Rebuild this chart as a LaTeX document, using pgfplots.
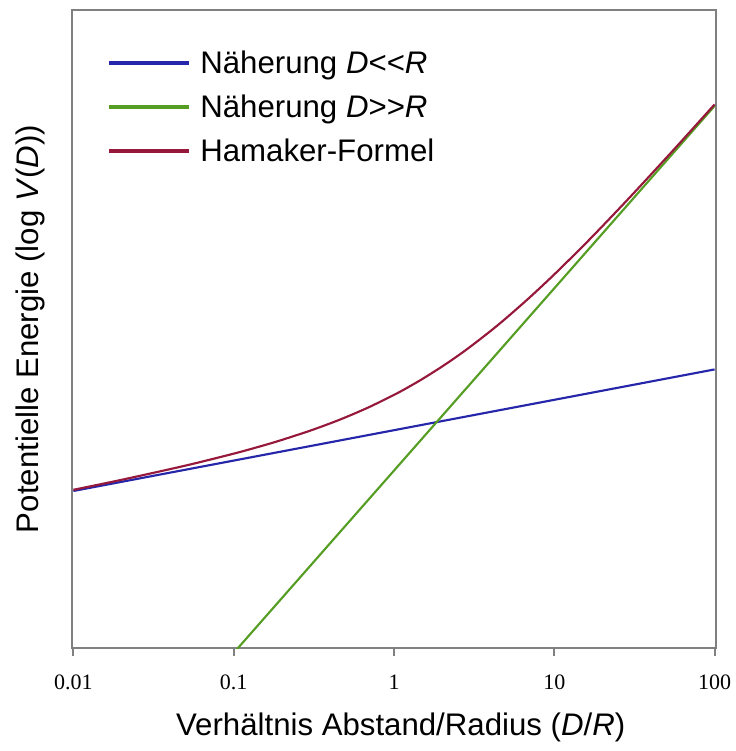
\documentclass[border=0pt]{standalone}
\usepackage{fontspec}
\setmainfont{Liberation Sans}
\newfontfamily\tickfont{Liberation Serif}
\usepackage{pgfplots}
\pgfplotsset{compat=1.18}
\definecolor{cblue}{RGB}{38,38,170}
\definecolor{cgreen}{RGB}{85,158,35}
\definecolor{cred}{RGB}{150,25,60}
\definecolor{framegray}{RGB}{128,128,128}
\newcommand{\tl}[1]{\mbox{\tickfont\fontsize{16.5}{16.5}\selectfont #1}}
\begin{document}
\begin{tikzpicture}
\begin{axis}[
  scale only axis, width=483pt, height=478.5pt,
  xmode=log, xmin=0.0098, xmax=102,
  ymin=-6.867, ymax=14.13,
  axis line style={framegray, line width=1.5pt},
  ytick=\empty,
  xtick={0.01,0.1,1,10,100},
  xticklabels={\tl{0.01},\tl{0.1},\tl{1},\tl{10},\tl{100}},
  xminorticks=false,
  xtick pos=bottom,
  tick align=outside,
  major tick length=6pt,
  tick style={framegray, line width=1.5pt},
  xticklabel style={anchor=base, yshift=-25pt},
  label style={font=\fontsize{23.4}{23.4}\selectfont},
  xlabel={Verhältnis Abstand/Radius (\textit{D}/\textit{R})},
  ylabel={Potentielle Energie (log \textit{V}(\textit{D}))},
  xlabel style={at={(axis description cs:0.5104,-0.125)}, anchor=center},
  ylabel style={at={(axis description cs:-0.0652,0.5)}, anchor=center},
  legend style={at={(axis description cs:0.0543,0.9357)}, anchor=north west,
    draw=none, fill=none, inner sep=0pt, row sep=16pt,
    font=\fontsize{23.4}{23.4}\selectfont,
    nodes={inner sep=0pt, text height=17pt, text depth=0pt}},
  legend cell align=left,
  legend image code/.code={
    \draw[line width=3pt] (0pt,0pt) -- (60pt,0pt);
    \path (67.5pt,0pt);
  },
]
\addplot[cblue, line width=1.6pt] coordinates {(0.01,-1.69897) (100,2.30103)};
\addplot[cgreen, line width=1.6pt] coordinates {(0.1,-7.028) (100,10.972)};
\addplot[cred, line width=1.6pt, smooth] coordinates {
(0.01,-1.6605) (0.02,-1.3312) (0.05,-0.8645) (0.1,-0.4707) (0.15,-0.2150)
(0.2,-0.0182) (0.3,0.2863) (0.4,0.5258) (0.5,0.7276) (0.7,1.0623)
(1,1.4630) (1.2,1.6882) (1.5,1.9839) (2,2.3996) (2.5,2.7495)
(3,3.0532) (4,3.5646) (5,3.9873) (7,4.6645) (10,5.4287)
(15,6.3456) (20,7.0211) (30,8.0003) (50,9.2670) (70,10.1155) (100,11.0233)};
\legend{Näherung \textit{D}<{}<\textit{R}, Näherung \textit{D}>{}>\textit{R}, Hamaker-Formel}
\end{axis}
\path[use as bounding box] (-54pt,-77.25pt) rectangle (495pt,486pt);
\end{tikzpicture}
\end{document}
